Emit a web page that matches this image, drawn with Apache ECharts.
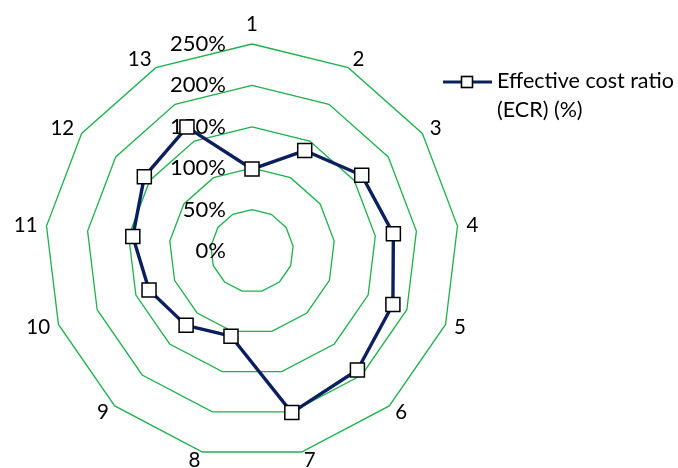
<!DOCTYPE html>
<html><head><meta charset="utf-8">
<script src="https://cdn.jsdelivr.net/npm/echarts@6/dist/echarts.min.js"></script>
<style>html,body{margin:0;padding:0;background:#fff}#c{width:678px;height:468px}</style>
</head><body><div id="c"></div>
<script>
const categories = ['1','2','3','4','5','6','7','8','9','10','11','12','13'];
const ecrValues = [99, 137, 161, 172, 182, 192, 201, 106, 120, 133, 145, 158, 169];
const tickValues = [0, 50, 100, 150, 200, 250];
const seriesName = 'Effective cost ratio\n(ECR) (%)';

// ECharts radar lays indicators counter-clockwise; reverse (keeping the first) for clockwise order
const order = [0].concat(categories.map((_, i) => i).slice(1).reverse());
const indicators = order.map(i => ({ name: categories[i], min: tickValues[0], max: tickValues[tickValues.length - 1] }));
const values = order.map(i => ecrValues[i]);

const LINE = '#0B1F5E';
const iconSvg = '<svg xmlns="http://www.w3.org/2000/svg" width="49" height="42" viewBox="0 0 49 42">' +
  '<line x1="0" y1="7" x2="49" y2="7" stroke="' + LINE + '" stroke-width="3"/>' +
  '<rect x="18.5" y="1.5" width="11" height="11" fill="#fff" stroke="#000" stroke-width="1.6"/></svg>';
const iconUrl = 'image://data:image/svg+xml;charset=utf-8,' + encodeURIComponent(iconSvg);

const FONT = 'Lato';
const chart = echarts.init(document.getElementById('c'), null, { renderer: 'canvas' });
chart.setOption({
  animation: false,
  backgroundColor: '#fff',
  textStyle: { fontFamily: FONT },
  legend: {
    left: 443, top: 67, padding: 0,
    itemWidth: 49, itemHeight: 42, itemGap: 5,
    icon: iconUrl,
    textStyle: { fontFamily: FONT, fontSize: 21.5, color: '#000', lineHeight: 29 },
    data: [seriesName]
  },
  radar: {
    center: [252, 251],
    radius: 207,
    shape: 'polygon',
    splitNumber: tickValues.length - 1,
    indicator: indicators,
    axisName: { color: '#000', fontSize: 20.5, fontFamily: FONT },
    nameGap: 9,
    axisLine: { show: false },
    axisTick: { show: false },
    axisLabel: { show: false },
    splitArea: { show: false },
    splitLine: { lineStyle: { color: '#1EB14C', width: 1.3 } }
  },
  polar: { center: [252, 251], radius: 207 },
  angleAxis: { show: false, startAngle: 90 },
  radiusAxis: {
    min: tickValues[0], max: tickValues[tickValues.length - 1], interval: 50,
    axisLine: { show: false }, axisTick: { show: false }, splitLine: { show: false },
    axisLabel: { formatter: '{value}%', color: '#000', fontSize: 22, fontFamily: FONT, margin: 26 }
  },
  series: [{
    name: seriesName,
    type: 'radar',
    symbol: 'rect',
    symbolSize: 14,
    lineStyle: { color: LINE, width: 3.4 },
    itemStyle: { color: '#fff', borderColor: '#000', borderWidth: 1.5 },
    data: [{ value: values, name: seriesName }]
  }]
});
</script></body></html>
